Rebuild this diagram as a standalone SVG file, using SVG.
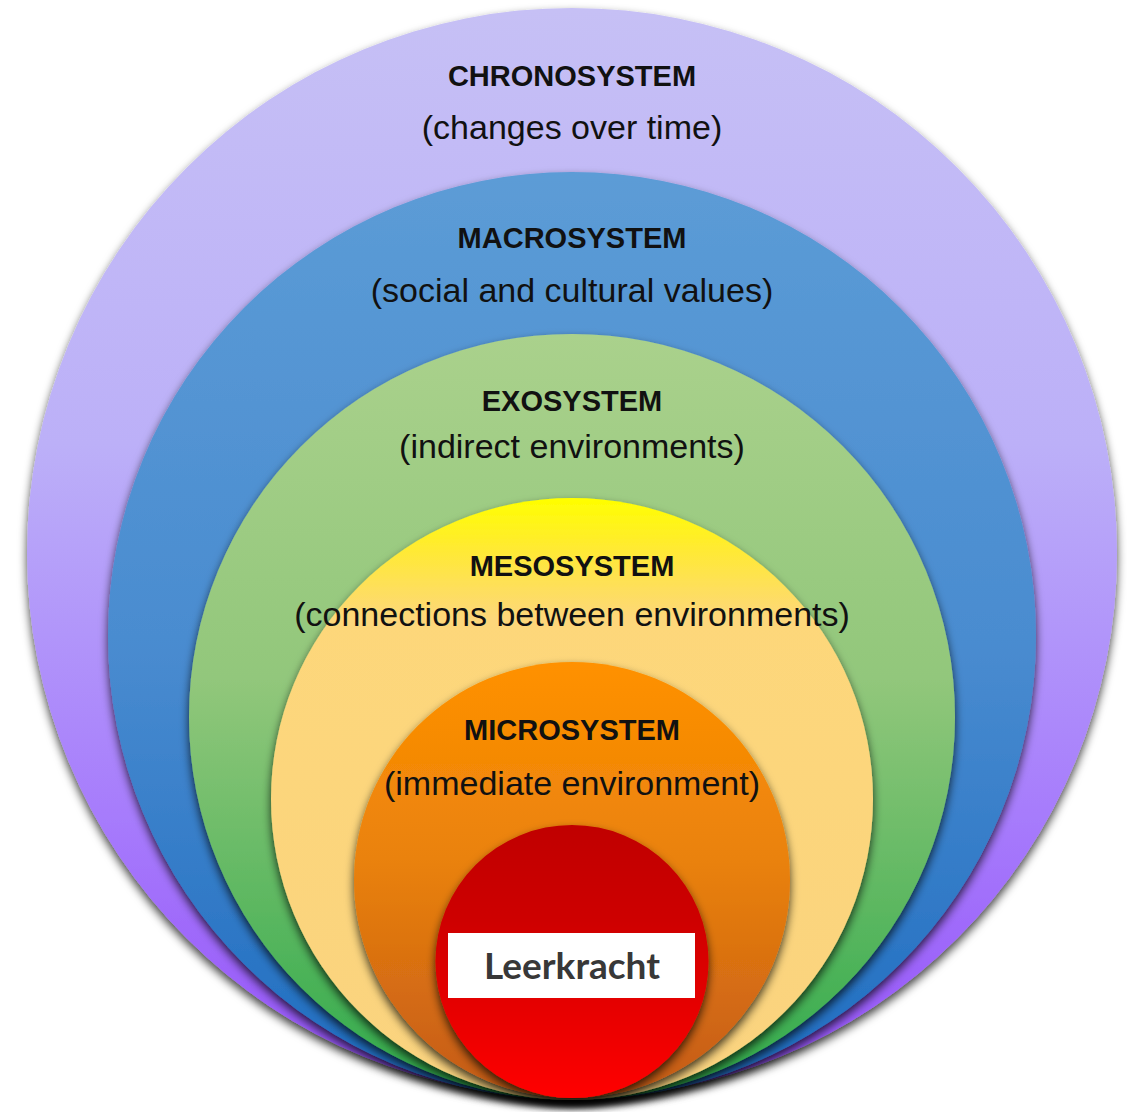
<svg xmlns="http://www.w3.org/2000/svg" width="1127" height="1112" viewBox="0 0 1127 1112">
  <defs>
    <linearGradient id="gChrono" x1="0" y1="0" x2="0" y2="1">
      <stop offset="0" stop-color="#C6C0F5"/>
      <stop offset="0.4" stop-color="#BCB0F8"/>
      <stop offset="0.75" stop-color="#A67AFC"/>
      <stop offset="1" stop-color="#9450F8"/>
    </linearGradient>
    <linearGradient id="gMacro" x1="0" y1="0" x2="0" y2="1">
      <stop offset="0" stop-color="#5C9CD6"/>
      <stop offset="0.5" stop-color="#4A8CD0"/>
      <stop offset="1" stop-color="#1E6CC0"/>
    </linearGradient>
    <linearGradient id="gExo" x1="0" y1="0" x2="0" y2="1">
      <stop offset="0" stop-color="#AAD18C"/>
      <stop offset="0.45" stop-color="#92C77B"/>
      <stop offset="1" stop-color="#2EAA4A"/>
    </linearGradient>
    <linearGradient id="gMeso" x1="0" y1="0" x2="0" y2="1">
      <stop offset="0" stop-color="#FFFF00"/>
      <stop offset="0.08" stop-color="#FFEB30"/>
      <stop offset="0.2" stop-color="#FDD77A"/>
      <stop offset="1" stop-color="#FAD37F"/>
    </linearGradient>
    <linearGradient id="gMicro" x1="0" y1="0" x2="0" y2="1">
      <stop offset="0" stop-color="#FF9100"/>
      <stop offset="0.45" stop-color="#EA820C"/>
      <stop offset="1" stop-color="#C45A18"/>
    </linearGradient>
    <linearGradient id="gCore" x1="0" y1="0" x2="0" y2="1">
      <stop offset="0" stop-color="#C00000"/>
      <stop offset="0.35" stop-color="#CE0000"/>
      <stop offset="1" stop-color="#FF0000"/>
    </linearGradient>
    <filter id="shadow" x="-10%" y="-10%" width="120%" height="125%">
      <feDropShadow dx="0" dy="5" stdDeviation="5" flood-color="#000" flood-opacity="0.75"/>
    </filter>
  </defs>
  <style>
    .title { font-family: "Liberation Sans", Arial, sans-serif; font-weight: bold; font-size: 29px; fill: #111; text-anchor: middle; }
    .sub { font-family: "Liberation Sans", Arial, sans-serif; font-size: 34px; fill: #111; text-anchor: middle; }
    .core { font-family: Lato, "Open Sans", sans-serif; font-weight: bold; font-size: 37px; fill: #383838; text-anchor: middle; }
  </style>
  <rect width="1127" height="1112" fill="#FFFFFF"/>

  <g id="chronosystem">
    <circle cx="572" cy="553" r="545" fill="url(#gChrono)" filter="url(#shadow)"/>
    <text class="title" x="572" y="86">CHRONOSYSTEM</text>
    <text class="sub" x="572" y="139">(changes over time)</text>
  </g>

  <g id="macrosystem">
    <circle cx="572" cy="636" r="464" fill="url(#gMacro)" filter="url(#shadow)"/>
    <text class="title" x="572" y="248">MACROSYSTEM</text>
    <text class="sub" x="572" y="302">(social and cultural values)</text>
  </g>

  <g id="exosystem">
    <circle cx="572" cy="717" r="383" fill="url(#gExo)" filter="url(#shadow)"/>
    <text class="title" x="572" y="411">EXOSYSTEM</text>
    <text class="sub" x="572" y="458">(indirect environments)</text>
  </g>

  <g id="mesosystem">
    <circle cx="572" cy="799" r="301" fill="url(#gMeso)" filter="url(#shadow)"/>
    <text class="title" x="572" y="576">MESOSYSTEM</text>
    <text class="sub" x="572" y="626">(connections between environments)</text>
  </g>

  <g id="microsystem">
    <circle cx="572" cy="880" r="218" fill="url(#gMicro)" filter="url(#shadow)"/>
    <text class="title" x="572" y="740">MICROSYSTEM</text>
    <text class="sub" x="572" y="795">(immediate environment)</text>
  </g>

  <g id="leerkracht">
    <circle cx="572" cy="961.5" r="136.5" fill="url(#gCore)" filter="url(#shadow)"/>
    <rect x="448" y="933" width="247" height="65" fill="#FFFFFF"/>
    <text class="core" x="572" y="979">Leerkracht</text>
  </g>
</svg>
